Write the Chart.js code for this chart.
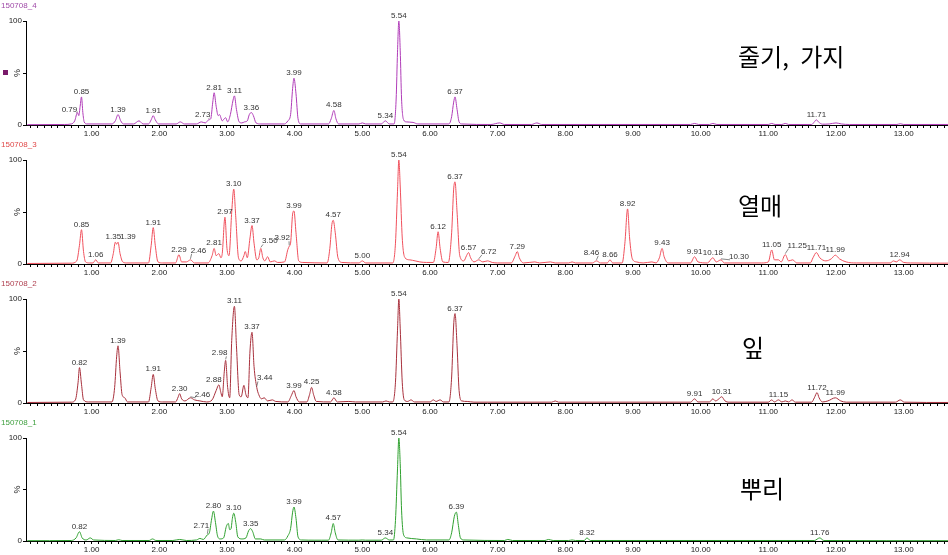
<!DOCTYPE html>
<html><head><meta charset="utf-8">
<script src="https://cdn.jsdelivr.net/npm/chart.js@4.4.0/dist/chart.umd.min.js"></script>
<style>
html,body{margin:0;padding:0;background:#fff;width:948px;height:555px;overflow:hidden;position:relative;}
canvas{position:absolute;left:0;}
.title{position:absolute;left:1px;font:8px "Liberation Sans",Arial,sans-serif;line-height:10px;white-space:nowrap;}
.kr{position:absolute;font:24px "Noto Sans CJK KR",sans-serif;color:#000;line-height:24px;white-space:nowrap;}
.mark{position:absolute;left:3px;top:70px;width:5px;height:5px;background:#7a1a6a;}
</style></head><body>
<div id="root"></div>
<script>
// ---------- DATA ----------
const sampleNames = ['150708_4', '150708_3', '150708_2', '150708_1'];
const partNames = ['줄기, 가지', '열매', '잎', '뿌리'];
const xTickLabels = ['1.00','2.00','3.00','4.00','5.00','6.00','7.00','8.00','9.00','10.00','11.00','12.00','13.00'];
const yTickLabels = ['0', '', '100'];
const yUnit = '%';

// retention time (min), relative intensity (%)
const traceStem = [[0.05,0.3],[0.60,0.5],[0.70,1],[0.75,4],[0.79,12],[0.81,9],[0.83,18],[0.85,27],[0.87,12],[0.89,3],[0.93,1],
[1.30,1],[1.35,4],[1.39,10],[1.43,4],[1.47,1],[1.62,1],[1.70,4],[1.76,1],
[1.84,1],[1.88,5],[1.91,9],[1.94,5],[1.99,1],[2.25,1],[2.31,3],[2.37,1],
[2.55,1],[2.62,3],[2.68,2],[2.73,5],[2.76,6],[2.79,22],[2.81,31],[2.84,18],[2.87,9],[2.89,10],[2.93,4],[2.96,6],[2.98,7],[3.01,3],
[3.05,10],[3.09,24],[3.11,28],[3.14,15],[3.18,3],[3.22,2],[3.26,3],[3.30,4],[3.33,10],[3.36,12],[3.39,9],[3.43,2],[3.50,1],
[3.85,1],[3.90,4],[3.94,10],[3.97,35],[3.99,45],[4.02,30],[4.05,6],[4.09,1],
[4.50,1],[4.54,6],[4.58,14],[4.61,6],[4.65,1],[4.95,1],[5.00,2],[5.05,1],
[5.28,1],[5.34,4],[5.40,1],[5.47,1],[5.50,25],[5.52,70],[5.54,100],[5.56,72],[5.58,25],[5.61,5],[5.65,3],[5.75,2.5],[5.82,1],
[6.28,1],[6.32,8],[6.35,22],[6.37,27],[6.40,15],[6.43,3],[6.47,1],
[6.90,0.5],[7.03,2],[7.10,0.5],[7.50,0.5],[7.58,2],[7.65,0.5],
[9.85,0.5],[9.91,1.5],[9.97,0.5],[10.13,0.5],[10.18,1.5],[10.24,0.5],
[11.00,0.5],[11.05,1.5],[11.10,0.5],[11.20,0.5],[11.25,1.5],[11.30,0.5],
[11.64,0.5],[11.68,3],[11.71,5],[11.74,3],[11.80,0.8],[11.90,1],[12.00,2],[12.08,1],[12.20,0.5],[12.90,0.5],[12.95,1.2],[13.00,0.5],[13.66,0.5]];

const traceFruit = [[0.05,0.5],[0.70,0.8],[0.78,3],[0.82,18],[0.85,33],[0.88,12],[0.91,2],[0.97,1],[1.02,1],[1.06,4],[1.10,1],
[1.28,1],[1.32,10],[1.35,21],[1.37,19],[1.39,21],[1.42,10],[1.46,2],[1.52,1],
[1.84,1],[1.88,18],[1.91,35],[1.94,18],[1.98,2],[2.05,1],
[2.24,1],[2.29,9],[2.33,2],[2.40,2],[2.46,4],[2.52,1],[2.72,1],[2.78,8],[2.81,15],[2.84,8],[2.88,10],[2.91,6],[2.93,10],[2.97,45],[3.00,15],[3.03,8],
[3.07,50],[3.10,72],[3.13,45],[3.17,6],[3.21,3],[3.25,8],[3.27,12],[3.30,6],[3.34,25],[3.37,37],[3.40,20],[3.44,4],[3.47,6],[3.50,15],[3.53,6],[3.56,3],[3.60,7],[3.64,2],[3.70,3],[3.75,1.5],
[3.85,2],[3.90,14],[3.92,17],[3.94,20],[3.97,48],[3.99,51],[4.02,30],[4.06,3],[4.12,1.5],
[4.48,1],[4.52,15],[4.55,38],[4.57,42],[4.60,30],[4.64,6],[4.70,1.5],[4.95,1],[5.00,3],[5.05,1],
[5.45,1],[5.49,20],[5.52,70],[5.54,100],[5.56,75],[5.59,25],[5.63,6],[5.70,4],[5.78,3],[5.85,2],[5.95,1.5],
[6.05,1.5],[6.09,15],[6.12,31],[6.15,15],[6.19,2],[6.27,1.5],[6.32,30],[6.35,72],[6.37,79],[6.40,50],[6.44,8],[6.50,3],[6.54,8],[6.57,11],[6.60,6],[6.65,2],[6.72,4],[6.78,2],[6.85,3],[6.92,1.5],
[7.00,1],[7.20,1],[7.26,8],[7.29,12],[7.32,6],[7.38,1],[7.55,2],[7.62,1],[7.78,2],[7.85,1],
[8.05,1],[8.10,2],[8.15,1],[8.40,1],[8.46,3],[8.52,1],[8.62,1],[8.66,4],[8.70,1],
[8.84,1],[8.88,20],[8.92,53],[8.95,25],[8.99,5],[9.05,2],[9.15,1],[9.28,2],[9.34,1],[9.39,6],[9.43,15],[9.46,7],[9.52,1],
[9.85,1],[9.91,7],[9.96,2],[10.10,1],[10.18,6],[10.23,2],[10.30,4],[10.35,1],
[10.90,1],[11.00,2],[11.05,13.5],[11.09,4],[11.15,4],[11.19,2],[11.25,9],[11.30,3],[11.36,4],[11.42,1],
[11.62,1],[11.66,6],[11.71,11],[11.76,6],[11.85,3],[11.93,5],[11.99,8.5],[12.05,5],[12.15,2],[12.30,1],
[12.80,1],[12.85,3],[12.89,2],[12.94,4],[13.00,1.5],[13.10,1],[13.66,0.8]];

const traceLeaf = [[0.05,0.5],[0.70,0.8],[0.76,3],[0.80,20],[0.82,34],[0.85,18],[0.88,3],[0.95,1],
[1.30,1],[1.34,15],[1.37,45],[1.39,55],[1.42,30],[1.45,8],[1.49,5],[1.53,1],
[1.84,1],[1.88,15],[1.91,27.5],[1.94,14],[1.98,2],[2.05,1],
[2.24,1],[2.28,6],[2.30,9],[2.33,4],[2.38,2],[2.46,5],[2.52,3],[2.60,2],[2.70,1],[2.78,3],[2.84,12],[2.88,17.5],[2.91,10],[2.93,6],[2.96,30],[2.98,41],[3.01,15],[3.04,5],
[3.07,60],[3.11,93],[3.14,55],[3.18,8],[3.21,6],[3.25,17],[3.28,8],[3.31,5],[3.34,50],[3.37,68],[3.40,35],[3.44,15],[3.47,8],[3.51,4],[3.55,5],[3.60,2],[3.67,3],[3.72,1.5],
[3.90,1],[3.95,7],[3.99,12],[4.02,6],[4.07,1],[4.18,1],[4.22,8],[4.25,15],[4.28,8],[4.32,1.5],
[4.53,1],[4.58,5],[4.63,1],[4.80,1.5],[4.90,1],[5.30,1],[5.35,2],[5.40,1],
[5.45,1],[5.49,20],[5.52,70],[5.54,100],[5.56,72],[5.59,20],[5.62,3],[5.67,1.5],[5.72,3],[5.77,1],
[6.00,1],[6.05,3],[6.09,1.5],[6.15,3],[6.20,1],[6.28,1],[6.32,25],[6.35,75],[6.37,86],[6.40,55],[6.43,12],[6.47,2],[6.55,1.5],[6.65,0.8],
[7.80,0.8],[7.85,2],[7.90,0.8],
[9.85,0.8],[9.91,4],[9.96,1],[10.13,1],[10.18,4],[10.22,2],[10.27,4],[10.31,6],[10.36,2],[10.42,0.8],
[11.00,0.8],[11.05,3],[11.09,1],[11.15,3],[11.20,1],[11.25,2],[11.30,1],[11.35,3],[11.40,0.8],
[11.64,0.8],[11.68,5],[11.72,10],[11.75,5],[11.80,1],[11.88,2],[11.99,5],[12.07,2],[12.15,0.8],
[12.88,0.8],[12.95,3],[13.01,0.8],[13.66,0.5]];

const traceRoot = [[0.05,0.3],[0.70,0.5],[0.77,3],[0.82,9],[0.86,3],[0.92,1],[0.98,3],[1.03,1],[1.35,0.5],[1.40,1.2],[1.45,0.5],[1.85,0.5],[1.90,2],[1.95,0.5],
[2.20,0.5],[2.30,1.5],[2.40,0.5],[2.55,1],[2.60,2.5],[2.65,1.5],[2.71,6],[2.74,8],[2.77,20],[2.80,29],[2.83,18],[2.86,5],[2.90,2],[2.95,3],[2.99,14],[3.02,17],[3.04,11],[3.06,12],[3.08,22],[3.10,27],[3.13,18],[3.16,4],[3.22,2],
[3.28,3],[3.32,10],[3.35,12],[3.38,9],[3.42,2],[3.50,2],[3.55,1],
[3.85,1],[3.90,5],[3.94,12],[3.97,28],[3.99,33],[4.02,22],[4.05,4],[4.10,1],[4.30,0.8],[4.40,0.8],
[4.50,0.8],[4.54,8],[4.57,17],[4.60,8],[4.64,1],[4.95,0.8],[5.00,1],[5.05,0.8],
[5.28,0.8],[5.34,3],[5.40,1],[5.46,1],[5.49,20],[5.52,70],[5.54,100],[5.56,75],[5.58,30],[5.61,6],[5.66,3],[5.80,2],[5.95,1],
[6.28,1],[6.32,8],[6.36,24],[6.39,28],[6.42,15],[6.45,3],[6.50,1],
[7.10,0.5],[7.15,1.5],[7.22,0.5],[7.70,0.5],[7.75,1.5],[7.82,0.5],[8.05,0.5],[8.10,1],[8.15,0.5],[8.28,0.5],[8.32,3],[8.37,0.5],
[11.68,0.5],[11.76,3],[11.82,0.5],[13.66,0.3]];

// labelled peaks: [retention time, apex %]
const peaksStem = [[0.79,12],[0.85,27],[1.39,10],[1.91,9],[2.73,5],[2.81,31],[3.11,28],[3.36,12],[3.99,45],[4.58,14],[5.34,4],[5.54,100],[6.37,27],[11.71,5]];
const peaksFruit = [[0.85,33],[1.06,4],[1.35,21],[1.39,21],[1.91,35],[2.29,9],[2.46,4],[2.81,15],[2.97,45],[3.10,72],[3.37,37],[3.50,15],[3.92,17],[3.99,51],[4.57,42],[5.00,3],[5.54,100],[6.12,31],[6.37,79],[6.57,11],[6.72,4],[7.29,12],[8.46,3],[8.66,4],[8.92,53],[9.43,15],[9.91,7],[10.18,6],[10.30,4],[11.05,13.5],[11.25,9],[11.71,11],[11.99,8.5],[12.94,4]];
const peaksLeaf = [[0.82,34],[1.39,55],[1.91,27.5],[2.30,9],[2.46,5],[2.88,17.5],[2.98,41],[3.11,93],[3.37,68],[3.44,15],[3.99,12],[4.25,15],[4.58,5],[5.54,100],[6.37,86],[9.91,4],[10.31,6],[11.15,3],[11.72,10],[11.99,5]];
const peaksRoot = [[0.82,9],[2.71,6],[2.80,29],[3.10,27],[3.35,12],[3.99,33],[4.57,17],[5.34,3],[5.54,100],[6.39,28],[8.32,3],[11.76,3]];

// ---------- STYLE / LAYOUT ----------
const FONT = '"Liberation Sans", Arial, sans-serif';
const panels = [
  {trace: traceStem, peaks: peaksStem, color: '#b03cb8', titleColor: '#a04aa8', top: 0, h: 139,
   kr: {left: 738, top: 44, wordSpacing: 6}, offsets: {'0.79': [-8, 2, 1], '2.73': [-6, 0, 1]}},
  {trace: traceFruit, peaks: peaksFruit, color: '#f0505c', titleColor: '#e04848', top: 139, h: 139,
   kr: {left: 738, top: 193, wordSpacing: 0}, offsets: {'1.35': [-2, 0, 0], '1.39': [10, 0, 0], '2.46': [8, -4, 1], '3.50': [9, -2, 1], '3.92': [-7, -3, 1], '6.72': [10, -3, 1], '8.46': [-5, -3, 1], '10.30': [18, 2, 1], '11.25': [12, -4, 1]}},
  {trace: traceLeaf, peaks: peaksLeaf, color: '#a8303c', titleColor: '#b04050', top: 278, h: 139,
   kr: {left: 742, top: 335, wordSpacing: 0}, offsets: {'2.46': [12, 2, 1], '2.98': [-6, -2, 1], '3.44': [8, -4, 1], '2.88': [-5, 0, 0]}},
  {trace: traceRoot, peaks: peaksRoot, color: '#2ea02e', titleColor: '#40a040', top: 417, h: 138,
   kr: {left: 740, top: 476, wordSpacing: 0}, offsets: {'2.71': [-6, -4, 1]}}
];

const peakLabelPlugin = {
  id: 'peakLabels',
  afterDatasetsDraw(chart, args, opts) {
    const {ctx, scales: {x, y}} = chart;
    ctx.save();
    ctx.font = '8px ' + FONT;
    ctx.fillStyle = '#333';
    ctx.strokeStyle = '#555';
    ctx.lineWidth = 0.7;
    ctx.textAlign = 'center';
    ctx.textBaseline = 'alphabetic';
    for (const [rt, h] of opts.peaks) {
      const txt = rt.toFixed(2);
      const px = x.getPixelForValue(rt), py = y.getPixelForValue(h);
      const off = opts.offsets[txt] || [0, 0, 0];
      const tx = px + off[0], ty = py - 3 + off[1];
      ctx.fillText(txt, tx, ty);
      if (off[2]) {
        const w = ctx.measureText(txt).width;
        const sx = off[0] < 0 ? tx + w / 2 - 1 : tx - w / 2 + 1;
        ctx.beginPath();
        ctx.moveTo(sx, ty + 1);
        ctx.lineTo(px, py - 1);
        ctx.stroke();
      }
    }
    // unit label on y axis
    ctx.translate(18, y.getPixelForValue(50));
    ctx.rotate(-Math.PI / 2);
    ctx.font = '9px ' + FONT;
    ctx.fillStyle = '#222';
    ctx.textBaseline = 'middle';
    ctx.fillText(yUnit, 0, 0);
    ctx.restore();
  }
};

const root = document.getElementById('root');
panels.forEach((p, i) => {
  const cv = document.createElement('canvas');
  cv.width = 948; cv.height = p.h;
  cv.style.top = p.top + 'px';
  cv.style.width = '948px'; cv.style.height = p.h + 'px';
  root.appendChild(cv);

  const t = document.createElement('div');
  t.className = 'title';
  t.style.top = (p.top + 1) + 'px';
  t.style.color = p.titleColor;
  t.textContent = sampleNames[i];
  root.appendChild(t);

  const k = document.createElement('div');
  k.className = 'kr';
  k.style.left = p.kr.left + 'px';
  k.style.top = p.kr.top + 'px';
  k.style.wordSpacing = p.kr.wordSpacing + 'px';
  k.textContent = partNames[i];
  root.appendChild(k);

  if (i === 0) {
    const m = document.createElement('div');
    m.className = 'mark';
    root.appendChild(m);
  }

  new Chart(cv, {
    type: 'line',
    data: {
      datasets: [{
        data: p.trace.map(([x, y]) => ({x, y})),
        borderColor: p.color,
        borderWidth: 1,
        pointRadius: 0,
        fill: false,
        cubicInterpolationMode: 'monotone',
        clip: false
      }]
    },
    options: {
      responsive: false,
      animation: false,
      events: [],
      layout: {padding: {top: 21, left: 0, right: 0, bottom: 0}},
      plugins: {legend: {display: false}, tooltip: {enabled: false},
        peakLabels: {peaks: p.peaks, offsets: p.offsets}},
      scales: {
        x: {
          type: 'linear', min: 0.03, max: 13.655,
          afterBuildTicks: s => { const a = []; for (let n = 1; n <= 136; n++) a.push({value: n / 10}); s.ticks = a; },
          afterFit: s => { s.height = 14; },
          ticks: {autoSkip: false, maxRotation: 0, minRotation: 0, padding: 1,
            font: {size: 8, family: FONT}, color: '#222',
            callback: v => { const r = Math.round(v); return Math.abs(v - r) < 1e-6 && r >= 1 ? xTickLabels[r - 1] : ''; }},
          grid: {drawOnChartArea: false, tickLength: 3, color: '#000', lineWidth: 1},
          border: {color: '#000', width: 1}
        },
        y: {
          min: 0, max: 100,
          afterBuildTicks: s => { s.ticks = [0, 50, 100].map(v => ({value: v})); },
          afterFit: s => { s.width = 26; },
          ticks: {padding: 1, font: {size: 8, family: FONT}, color: '#222',
            callback: (v, idx) => yTickLabels[idx]},
          grid: {drawOnChartArea: false, tickLength: 3, color: '#000'},
          border: {color: '#000', width: 1}
        }
      }
    },
    plugins: [peakLabelPlugin]
  });
});
</script>
</body></html>
